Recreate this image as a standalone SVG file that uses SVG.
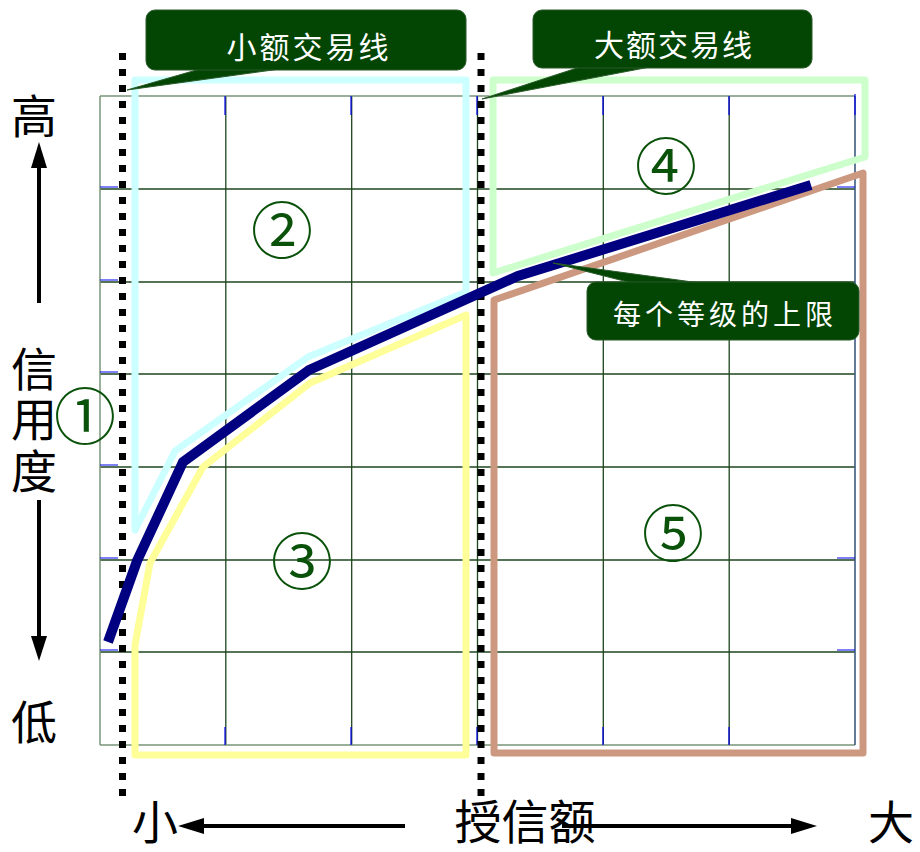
<svg xmlns="http://www.w3.org/2000/svg" width="920" height="852" viewBox="0 0 920 852">
<style>
.grid{stroke:#1e451e;stroke-width:1.3;fill:none}
.tick{stroke:#0000ee;stroke-width:1.2}
.dot{stroke:#000;stroke-width:7;stroke-dasharray:7 9;fill:none}
.zone{fill:none;stroke-width:7;stroke-linejoin:round;stroke-linecap:round}
.lbl{font-family:"Noto Sans CJK SC","Noto Sans",sans-serif;fill:#000;font-size:46px;text-anchor:middle}
.num{font-family:"Noto Sans CJK SC","Noto Sans",sans-serif;fill:#0a520a;font-size:62px;text-anchor:middle}
.call{fill:#034503;stroke:#2a5a2a;stroke-width:1}
.ctxt{font-family:"Noto Sans CJK SC","Noto Sans",sans-serif;fill:#fff;font-size:30px;letter-spacing:3px;text-anchor:middle}
.arr{stroke:#000;stroke-width:4;fill:none}
</style>
<rect width="920" height="852" fill="#fff"/>
<g id="grid">
<path class="grid" d="M225.8 96V745M351.7 96V745M477.5 96V745M603.3 96V745M729.2 96V745M100 189H855M100 282H855M100 374H855M100 467H855M100 560H855M100 652H855"/>
<path d="M100 96H855M100 96V745M100 745H855" stroke="#7a957a" stroke-width="1.5" fill="none"/>
<path d="M855 96V745" stroke="#3d5a80" stroke-width="1.6"/>
<path class="tick" d="M100 187H118M100 280H118M100 372H118M100 465H118M100 558H118M100 650H118M837 187H855M837 558H855M837 650H855M225 96V115M351 96V115M477 96V115M603 96V115M729 96V115M855 94V115M225 727V745M351 727V745M477 727V745M603 727V745M729 727V745"/>
</g>
<g id="zone2"><path class="zone" stroke="#ccffff" d="M135 530V80H466V292L308 357L175 451Z"/></g>
<g id="zone3"><path class="zone" stroke="#ffff99" d="M466 315L310 383L203 467L150 563L135 645V755H466Z"/></g>
<g id="zone4"><path class="zone" stroke="#ccffcc" d="M493 80H865V157L493 273Z"/></g>
<g id="zone5"><path class="zone" stroke="#cc9980" d="M494 300L863 173V753H494Z"/></g>
<g id="dotted">
<path class="dot" d="M122.5 53V798"/>
<path class="dot" d="M481 53V798"/>
</g>
<g id="curve"><path d="M108 642L137 561L183 462L309 370L518 276L811 185" fill="none" stroke="#000080" stroke-width="10" stroke-linejoin="miter"/></g>
<g id="callout-small">
<path class="call" d="M200 69L280 69L127 90Z"/>
<rect class="call" x="146" y="10" width="320" height="60" rx="9"/>
<text class="ctxt" x="309" y="58">小额交易线</text>
</g>
<g id="callout-large">
<path class="call" d="M580 67L650 67L482 99Z"/>
<rect class="call" x="533" y="10" width="279" height="58" rx="9"/>
<text class="ctxt" x="674" y="56" style="letter-spacing:2px">大额交易线</text>
</g>
<g id="callout-limit">
<path class="call" d="M632 283L700 283L553 263Z"/>
<rect class="call" x="587" y="282" width="272" height="58" rx="9"/>
<text class="ctxt" x="725" y="325" style="font-size:28px;letter-spacing:4px">每个等级的上限</text>
</g>
<g id="n1"><text class="num" x="85" y="440">①</text></g>
<g id="n2"><text class="num" x="282" y="254">②</text></g>
<g id="n3"><text class="num" x="302" y="585">③</text></g>
<g id="n4"><text class="num" x="666" y="190">④</text></g>
<g id="n5"><text class="num" x="673" y="557">⑤</text></g>
<g id="yaxis">
<text class="lbl" x="34" y="133">高</text>
<text class="lbl"><tspan x="34" y="386">信</tspan><tspan x="34" y="436">用</tspan><tspan x="34" y="488">度</tspan></text>
<text class="lbl" x="34" y="739">低</text>
<path class="arr" d="M39 303V165"/>
<path d="M39 142L31 168H47Z"/>
<path class="arr" d="M39 500V640"/>
<path d="M39 661L31 636H47Z"/>
</g>
<g id="xaxis">
<text class="lbl" x="155" y="839">小</text>
<text class="lbl" x="525" y="839" style="font-size:47px">授信额</text>
<text class="lbl" x="891" y="839">大</text>
<path class="arr" d="M405 826H200"/>
<path d="M178 826L204 818V834Z"/>
<path class="arr" d="M562 826H795"/>
<path d="M817 826L791 818V834Z"/>
</g>
</svg>
